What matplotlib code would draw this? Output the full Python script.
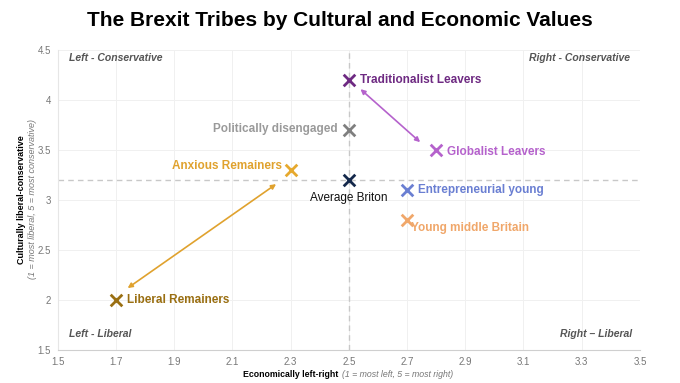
import matplotlib.pyplot as plt

plt.rcParams['font.family'] = ['Liberation Sans', 'DejaVu Sans']

tribes = ["Traditionalist Leavers", "Politically disengaged", "Globalist Leavers",
          "Anxious Remainers", "Average Briton", "Entrepreneurial young",
          "Young middle Britain", "Liberal Remainers"]
econ = [2.5, 2.5, 2.8, 2.3, 2.5, 2.7, 2.7, 1.7]
cult = [4.2, 3.7, 3.5, 3.3, 3.2, 3.1, 2.8, 2.0]
colors = ["#6e2a82", "#7f7f7f", "#b562cc", "#e6a92e", "#14284b", "#6a7fd2",
          "#f0a76a", "#9a6f12"]
label_colors = ["#6e2a82", "#9a9a9a", "#b562cc", "#e0a22e", "#111111", "#6a7fd2",
                "#f0a76a", "#9a6f12"]
# label placement: (dx points, dy points, ha, va, bold)
placement = [(8, 0, "left", "center", True), (-8, 1, "right", "center", True),
             (8, -1, "left", "center", True), (-6, 3, "right", "center", True),
             (0, -13, "center", "center", False), (8, 0, "left", "center", True),
             (3, -6, "left", "center", True), (8, 0, "left", "center", True)]

avg_x, avg_y = 2.5, 3.2
arrows = [((1.74, 2.12), (2.25, 3.16), "#e0a22e"),
          ((2.54, 4.11), (2.745, 3.58), "#b562cc")]
corners = [("Left - Conservative", 1.54, 4.42, "left"),
           ("Right - Conservative", 3.465, 4.42, "right"),
           ("Left - Liberal", 1.54, 1.66, "left"),
           ("Right \u2013 Liberal", 3.475, 1.66, "right")]

fig = plt.figure(figsize=(6.8, 3.83), dpi=100)
ax = fig.add_axes([0.085, 0.086, 0.856, 0.783])

ax.axvline(avg_x, color="#c8c8c8", lw=1, ls=(0, (4, 3)), zorder=1)
ax.axhline(avg_y, color="#c8c8c8", lw=1, ls=(0, (4, 3)), zorder=1)

for (start, end, c) in arrows:
    ax.annotate("", xy=start, xytext=end,
                arrowprops=dict(arrowstyle="<|-|>", color=c, lw=1.2,
                                mutation_scale=7, shrinkA=0, shrinkB=0))

for name, x, y, c, lc, (dx, dy, ha, va, bold) in zip(tribes, econ, cult, colors,
                                                     label_colors, placement):
    ax.scatter(x, y, marker="x", s=70, color=c, linewidths=2, zorder=3)
    ax.annotate(name, (x, y), xytext=(dx, dy), textcoords="offset points",
                ha=ha, va=va, fontsize=8.5, color=lc,
                fontweight="bold" if bold else "normal")

for text, x, y, ha in corners:
    ax.text(x, y, text, ha=ha, va="center", fontsize=7.5, style="italic",
            fontweight="bold", color="#555555")

ax.set_xlim(1.5, 3.5)
ax.set_ylim(1.5, 4.5)
ax.set_xticks([1.5, 1.7, 1.9, 2.1, 2.3, 2.5, 2.7, 2.9, 3.1, 3.3, 3.5])
ax.set_xticklabels(["1.5", "1.7", "1.9", "2.1", "2.3", "2.5", "2.7", "2.9",
                    "3.1", "3.3", "3.5"])
ax.set_yticks([1.5, 2, 2.5, 3, 3.5, 4, 4.5])
ax.set_yticklabels(["1.5", "2", "2.5", "3", "3.5", "4", "4.5"])
ax.tick_params(length=0, labelsize=7, colors="#777777", pad=5)
ax.grid(True, color="#f0f0f0", lw=0.7)
ax.set_axisbelow(True)
for s in ["top", "right"]:
    ax.spines[s].set_visible(False)
ax.spines["left"].set_color("#e6e6e6")
ax.spines["bottom"].set_color("#cfcfcf")

fig.text(0.5, 0.947, "The Brexit Tribes by Cultural and Economic Values",
         ha="center", va="center", fontsize=15, fontweight="bold")

fig.text(0.357, 0.021, "Economically left-right", ha="left", va="center",
         fontsize=6.3, fontweight="bold")
fig.text(0.503, 0.021, "(1 = most left, 5 = most right)", ha="left", va="center",
         fontsize=6.3, style="italic", color="#777777")
fig.text(0.032, 0.48, "Culturally liberal-conservative", rotation=90,
         ha="center", va="center", fontsize=6.5, fontweight="bold")
fig.text(0.048, 0.48, "(1 = most liberal, 5 = most conservative)", rotation=90,
         ha="center", va="center", fontsize=6.5, style="italic", color="#777777")

fig.savefig("out.png", dpi=100, facecolor="white")
